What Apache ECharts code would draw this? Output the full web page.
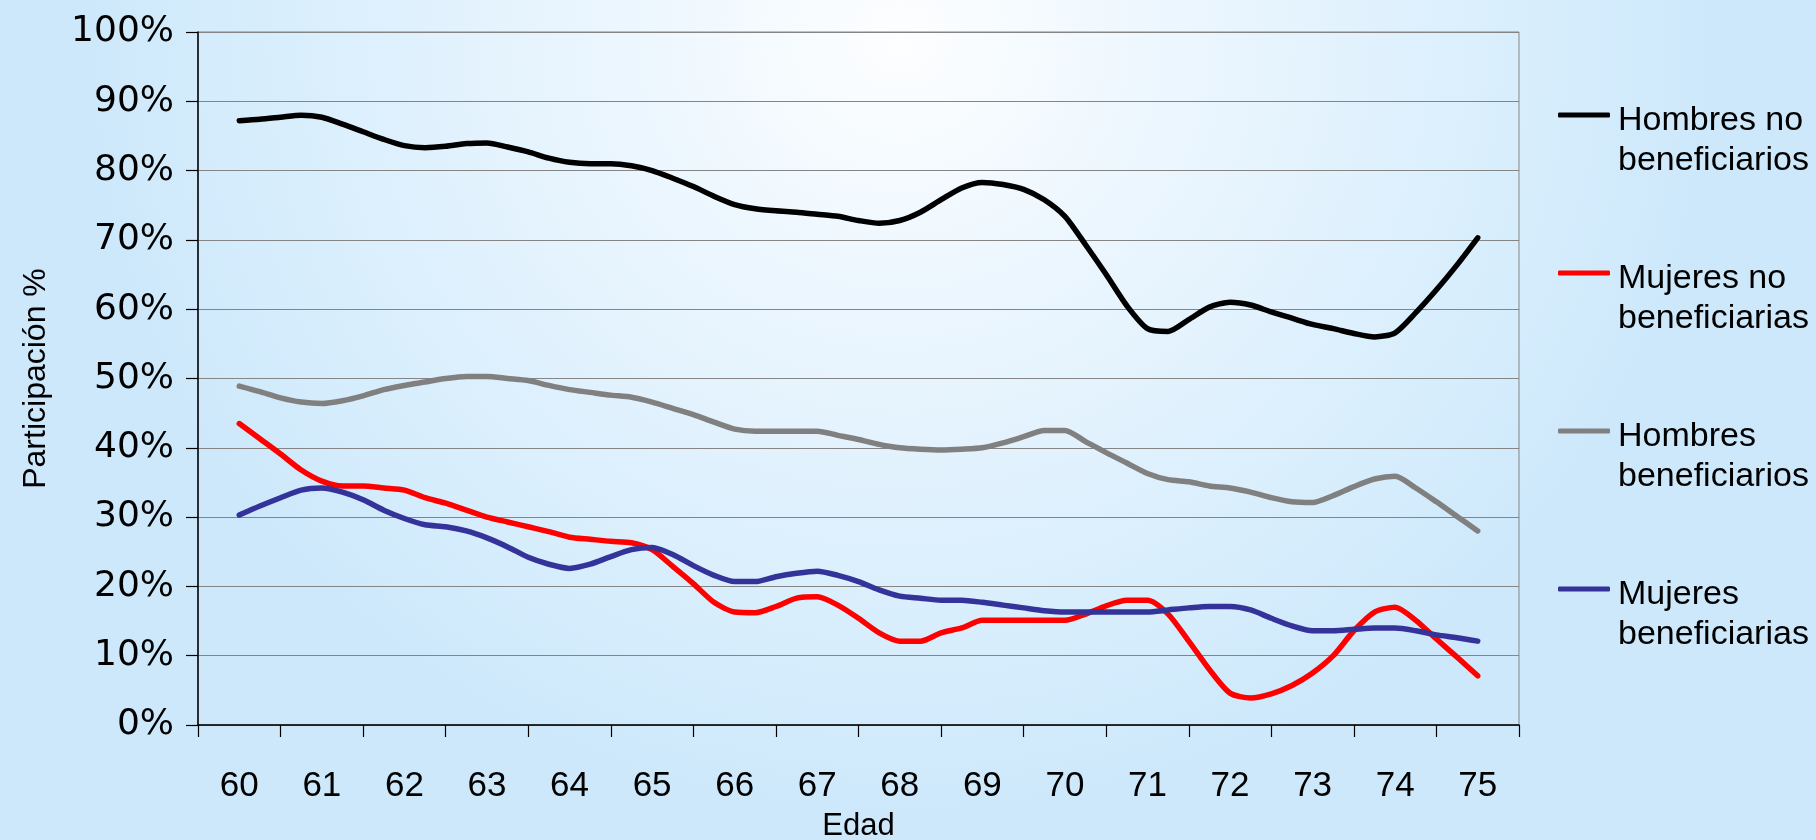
<!DOCTYPE html>
<html>
<head>
<meta charset="utf-8">
<script src="https://cdn.jsdelivr.net/npm/echarts@6/dist/echarts.min.js"></script>
<style>
  html, body { margin: 0; padding: 0; width: 1816px; height: 840px; overflow: hidden; }
  body { background: radial-gradient(ellipse 820px 780px at 900px 40px, #fdfeff 0%, #e9f5fe 40%, #d4ecfc 85%, #cde8fb 100%); }
  #chart { width: 1816px; height: 840px; }
</style>
</head>
<body>
<div id="chart"></div>
<script>
// Age categories (x axis labels)
const ages = ['60','61','62','63','64','65','66','67','68','69','70','71','72','73','74','75'];
// Quarterly observations from age 60.00 to 75.00 (61 values per series), in %
const firstAge = 60;
const stepPerObs = 0.25;

const hombresNoBenef = [
  87.2, 87.4, 87.7, 88.0, 87.7, 86.7, 85.6, 84.5, 83.6, 83.3, 83.5, 83.9,
  84.0, 83.4, 82.7, 81.8, 81.2, 81.0, 81.0, 80.7, 80.0, 78.9, 77.7, 76.3,
  75.1, 74.5, 74.2, 74.0, 73.7, 73.4, 72.8, 72.4, 72.8, 74.0, 75.8, 77.5,
  78.3, 78.0, 77.3, 75.8, 73.4, 69.3, 65.0, 60.5, 57.2, 56.8, 58.5, 60.3,
  61.0, 60.6, 59.6, 58.7, 57.8, 57.2, 56.5, 56.0, 56.6, 59.5, 62.8, 66.4,
  70.3
];
const mujeresNoBenef = [
  43.5, 41.3, 39.1, 36.8, 35.2, 34.5, 34.5, 34.2, 33.9, 32.8, 32.0, 31.0,
  30.0, 29.3, 28.6, 27.9, 27.1, 26.8, 26.5, 26.3, 25.3, 22.9, 20.4, 17.7,
  16.3, 16.2, 17.1, 18.3, 18.5, 17.3, 15.4, 13.3, 12.1, 12.1, 13.3, 14.0,
  15.1, 15.1, 15.1, 15.1, 15.1, 16.0, 17.2, 18.0, 18.0, 16.0, 12.1, 8.0,
  4.6, 3.9, 4.5, 5.7, 7.5, 10.0, 13.6, 16.3, 17.0, 15.1, 12.4, 9.8,
  7.1
];
const hombresBenef = [
  48.9, 48.1, 47.2, 46.6, 46.4, 46.8, 47.5, 48.4, 49.0, 49.5, 50.0, 50.3,
  50.3, 50.0, 49.7, 49.0, 48.4, 48.0, 47.6, 47.3, 46.6, 45.7, 44.8, 43.7,
  42.7, 42.4, 42.4, 42.4, 42.4, 41.8, 41.2, 40.5, 40.0, 39.8, 39.7, 39.8,
  40.0, 40.7, 41.6, 42.5, 42.5, 40.9, 39.3, 37.8, 36.3, 35.4, 35.1, 34.5,
  34.2, 33.6, 32.8, 32.2, 32.1, 33.1, 34.4, 35.5, 35.9, 34.2, 32.2, 30.1,
  28.0
];
const mujeresBenef = [
  30.3, 31.6, 32.8, 33.9, 34.2, 33.6, 32.5, 31.0, 29.8, 28.9, 28.6, 28.0,
  27.0, 25.7, 24.2, 23.2, 22.6, 23.2, 24.3, 25.3, 25.6, 24.6, 23.0, 21.6,
  20.7, 20.7, 21.4, 21.9, 22.2, 21.6, 20.7, 19.5, 18.6, 18.3, 18.0, 18.0,
  17.7, 17.3, 16.9, 16.5, 16.3, 16.3, 16.3, 16.3, 16.3, 16.6, 16.9, 17.1,
  17.1, 16.6, 15.4, 14.3, 13.6, 13.6, 13.8, 14.0, 14.0, 13.6, 13.0, 12.6,
  12.1
];

const seriesNames = [
  'Hombres no\nbeneficiarios',
  'Mujeres no\nbeneficiarias',
  'Hombres\nbeneficiarios',
  'Mujeres\nbeneficiarias'
];
const seriesColors = ['#000000', '#ff0000', '#808080', '#333399'];
const seriesValues = [hombresNoBenef, mujeresNoBenef, hombresBenef, mujeresBenef];

function toPairs(vals) {
  return vals.map((v, i) => [firstAge + i * stepPerObs, v]);
}

const chart = echarts.init(document.getElementById('chart'), null, { renderer: 'canvas' });

const option = {
  backgroundColor: 'transparent',
  animation: false,
  grid: {
    left: 198, right: 297, top: 32, bottom: 115,
    show: true, borderColor: '#858585', borderWidth: 1, backgroundColor: 'transparent',
    containLabel: false,
    outerBoundsMode: 'none'
  },
  legend: {
    orient: 'vertical',
    left: 1553,
    top: 44,
    padding: 5,
    itemWidth: 52,
    itemHeight: 5,
    itemGap: 26,
    icon: 'roundRect',
    selectedMode: false,
    data: seriesNames,
    formatter: function (name) { return '{sp| }\n' + name; },
    textStyle: {
      fontFamily: 'Liberation Sans',
      fontSize: 34,
      lineHeight: 40,
      color: '#000',
      padding: [0, 0, 0, 3],
      rich: {
        sp: { fontSize: 10, lineHeight: 52, fontFamily: 'Liberation Sans' }
      }
    }
  },
  xAxis: [
    {
      type: 'category',
      data: ages,
      boundaryGap: true,
      name: 'Edad',
      nameLocation: 'middle',
      nameGap: 86,
      nameTextStyle: { fontFamily: 'Liberation Sans', fontSize: 31, color: '#000' },
      axisLine: { show: true, lineStyle: { color: '#000', width: 1.5 } },
      axisTick: { show: true, alignWithLabel: false, length: 12, lineStyle: { color: '#000', width: 1.2 } },
      axisLabel: { fontFamily: 'Liberation Sans', fontSize: 35, color: '#000', margin: 44, interval: 0 },
      splitLine: { show: false }
    },
    {
      type: 'value',
      min: 59.5,
      max: 75.5,
      show: false
    }
  ],
  yAxis: {
    type: 'value',
    min: 0,
    max: 100,
    interval: 10,
    name: 'Participación %',
    nameLocation: 'middle',
    nameRotate: 90,
    nameGap: 146,
    nameTextStyle: { fontFamily: 'Liberation Sans', fontSize: 32, color: '#000' },
    axisLine: { show: true, lineStyle: { color: '#000', width: 1.5 } },
    axisTick: { show: true, length: 12, lineStyle: { color: '#000', width: 1.2 } },
    axisLabel: { fontFamily: 'DejaVu Sans', fontSize: 36, color: '#000', margin: 24, formatter: '{value}%' },
    splitLine: { show: true, lineStyle: { color: '#858585', width: 1.2 } }
  },
  series: seriesValues.map((vals, k) => ({
    name: seriesNames[k],
    type: 'line',
    xAxisIndex: 1,
    data: toPairs(vals),
    smooth: 0.25,
    showSymbol: false,
    symbol: 'none',
    color: seriesColors[k],
    lineStyle: { color: seriesColors[k], width: 5.5, cap: 'round', join: 'round' }
  }))
};

chart.setOption(option);
</script>
</body>
</html>
